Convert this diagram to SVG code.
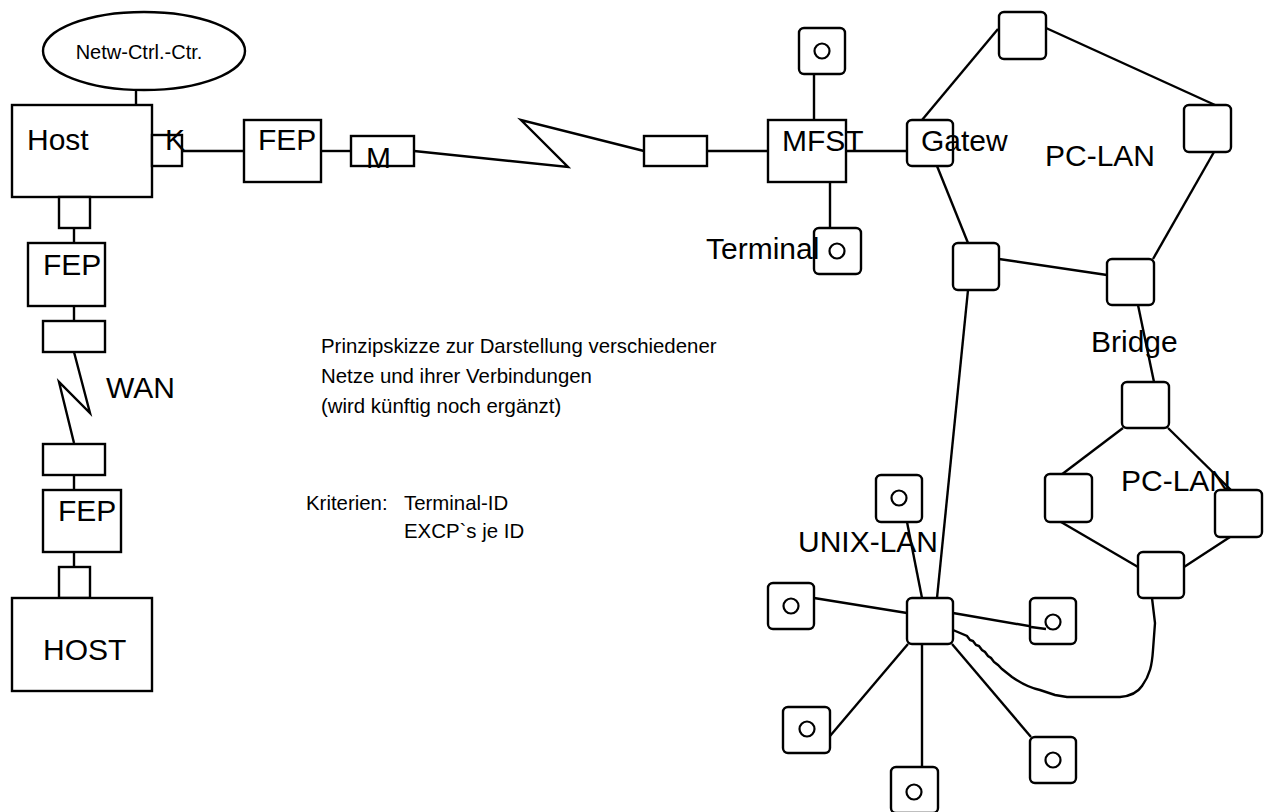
<svg xmlns="http://www.w3.org/2000/svg" width="1266" height="812" viewBox="0 0 1266 812">
<style>
.s{fill:none;stroke:#000;stroke-width:2.4}
.b{fill:#fff;stroke:#000;stroke-width:2.4}
.r{fill:#fff;stroke:#000;stroke-width:2.4}
.c{fill:none;stroke:#000;stroke-width:2.2}
.L{font-family:"Liberation Sans",Arial,sans-serif;font-size:30px;fill:#000}
.t{font-family:"Liberation Sans",Arial,sans-serif;font-size:20.4px;fill:#000}
</style>
<rect width="1266" height="812" fill="#fff"/>
<g id="connectors" class="s">
<line x1="136" y1="90" x2="136" y2="105"/>
<line x1="182" y1="151" x2="244" y2="151"/>
<line x1="321" y1="151" x2="351" y2="151"/>
<polyline points="414,151 568,167 521,120 644,151"/>
<line x1="707" y1="151" x2="768" y2="151"/>
<line x1="846" y1="151" x2="907" y2="151"/>
<line x1="814" y1="74" x2="814" y2="120"/>
<line x1="830" y1="182" x2="830" y2="228"/>
<line x1="74" y1="228" x2="74" y2="243"/>
<line x1="74" y1="306" x2="74" y2="321"/>
<polyline points="74,352 90,413 59,382 74,443"/>
<line x1="74" y1="475" x2="74" y2="490"/>
<line x1="74" y1="552" x2="74" y2="567"/>
<line x1="998" y1="29" x2="922" y2="120"/>
<line x1="1046" y1="28" x2="1215" y2="105"/>
<line x1="1214" y1="152" x2="1153" y2="259"/>
<line x1="937" y1="166" x2="968" y2="243"/>
<line x1="999" y1="259" x2="1107" y2="275"/>
<line x1="968" y1="290" x2="937" y2="598"/>
<line x1="1138" y1="305" x2="1154" y2="382"/>
<line x1="1123" y1="428" x2="1061" y2="475"/>
<line x1="1168" y1="428" x2="1232" y2="491"/>
<line x1="1061" y1="522" x2="1138" y2="567"/>
<line x1="1230" y1="537" x2="1184" y2="567"/>
<line x1="907" y1="522" x2="922" y2="598"/>
<line x1="814" y1="598" x2="907" y2="613"/>
<line x1="953" y1="613" x2="1046" y2="629"/>
<line x1="830" y1="736" x2="908" y2="644"/>
<line x1="922" y1="644" x2="922" y2="768"/>
<line x1="952" y1="644" x2="1031" y2="737"/>
<path d="M953,630 L967,636 L970,640 L973,641 L976,645 L979,646 L982,650 L985,652 L988,656 L991,658 L994,662 L998,665 L1002,669 L1007,673 L1012,677 C1022,684 1030,688 1040,690 L1055,695 L1067,697 L1120,697 C1132,696 1138,692 1142,686 C1150,675 1152,665 1153,650 L1155,623 L1152,598"/>
</g>
<g id="netw-ctrl">
<ellipse class="b" cx="144" cy="51" rx="101" ry="39"/>
<text class="t" x="139" y="59" text-anchor="middle" style="font-size:20px">Netw-Ctrl.-Ctr.</text>
</g>
<g id="host">
<rect class="b" x="12" y="105" width="140" height="92"/>
<text class="L" x="27" y="150">Host</text>
</g>
<g id="k">
<rect class="b" x="152" y="135" width="30" height="31"/>
<text class="L" x="165" y="150">K</text>
</g>
<g id="fep1">
<rect class="b" x="244" y="120" width="77" height="62"/>
<text class="L" x="258" y="150">FEP</text>
</g>
<g id="m">
<rect class="b" x="351" y="136" width="63" height="30"/>
<text class="L" x="366" y="168">M</text>
</g>
<g id="modem2">
<rect class="b" x="644" y="136" width="63" height="30"/>
</g>
<g id="mfst">
<rect class="b" x="768" y="120" width="78" height="62"/>
<text class="L" x="782" y="151">MFST</text>
</g>
<g id="term-top">
<rect class="r" x="799" y="28" width="46" height="46" rx="5"/>
<circle class="c" cx="822" cy="51" r="7.5"/>
</g>
<g id="terminal">
<rect class="r" x="814" y="228" width="47" height="46" rx="5"/>
<circle class="c" cx="837" cy="251" r="7.5"/>
<text class="L" x="706" y="259">Terminal</text>
</g>
<g id="host-port">
<rect class="b" x="59" y="197" width="31" height="31"/>
</g>
<g id="fep2">
<rect class="b" x="28" y="243" width="77" height="63"/>
<text class="L" x="43" y="275">FEP</text>
</g>
<g id="wan-modem1">
<rect class="b" x="43" y="321" width="62" height="31"/>
</g>
<g id="wan">
<text class="L" x="106" y="398">WAN</text>
</g>
<g id="wan-modem2">
<rect class="b" x="43" y="444" width="62" height="31"/>
</g>
<g id="fep3">
<rect class="b" x="43" y="490" width="78" height="62"/>
<text class="L" x="58" y="521">FEP</text>
</g>
<g id="host2-port">
<rect class="b" x="59" y="567" width="31" height="31"/>
</g>
<g id="host2">
<rect class="b" x="12" y="598" width="140" height="93"/>
<text class="L" x="43" y="660">HOST</text>
</g>
<g id="pc-top">
<rect class="r" x="999" y="12" width="47" height="47" rx="5"/>
</g>
<g id="pc-right">
<rect class="r" x="1184" y="105" width="47" height="47" rx="5"/>
</g>
<g id="gatew">
<rect class="r" x="907" y="120" width="46" height="46" rx="5"/>
<text class="L" x="921" y="151">Gatew</text>
</g>
<g id="pc-lan1">
<text class="L" x="1045" y="166">PC-LAN</text>
</g>
<g id="pc-bl">
<rect class="r" x="953" y="243" width="46" height="47" rx="5"/>
</g>
<g id="bridge">
<rect class="r" x="1107" y="259" width="47" height="46" rx="5"/>
<text class="L" x="1091" y="352">Bridge</text>
</g>
<g id="pc2-top">
<rect class="r" x="1122" y="382" width="47" height="46" rx="5"/>
</g>
<g id="pc2-left">
<rect class="r" x="1045" y="474" width="47" height="48" rx="5"/>
</g>
<g id="pc2-right">
<rect class="r" x="1215" y="490" width="47" height="47" rx="5"/>
</g>
<g id="pc2-bottom">
<rect class="r" x="1138" y="552" width="46" height="46" rx="5"/>
</g>
<g id="pc-lan2">
<text class="L" x="1121" y="491">PC-LAN</text>
</g>
<g id="unix-hub">
<rect class="r" x="907" y="598" width="46" height="46" rx="5"/>
</g>
<g id="unix-lan">
<text class="L" x="798" y="552">UNIX-LAN</text>
</g>
<g id="u-top">
<rect class="r" x="876" y="475" width="46" height="47" rx="5"/>
<circle class="c" cx="899" cy="498" r="7.5"/>
</g>
<g id="u-left">
<rect class="r" x="768" y="583" width="46" height="46" rx="5"/>
<circle class="c" cx="791" cy="606" r="7.5"/>
</g>
<g id="u-right">
<rect class="r" x="1030" y="598" width="46" height="46" rx="5"/>
<circle class="c" cx="1053" cy="622" r="7.5"/>
</g>
<line class="s" x1="1031" y1="627" x2="1046" y2="629"/>
<g id="u-bl">
<rect class="r" x="783" y="707" width="47" height="46" rx="5"/>
<circle class="c" cx="807" cy="729" r="7.5"/>
</g>
<g id="u-bottom">
<rect class="r" x="891" y="767" width="47" height="46" rx="5"/>
<circle class="c" cx="914" cy="792" r="7.5"/>
</g>
<g id="u-br">
<rect class="r" x="1030" y="737" width="46" height="46" rx="5"/>
<circle class="c" cx="1053" cy="760" r="7.5"/>
</g>
<g id="notes">
<text class="t" x="321" y="353">Prinzipskizze zur Darstellung verschiedener</text>
<text class="t" x="321" y="383">Netze und ihrer Verbindungen</text>
<text class="t" x="321" y="413">(wird künftig noch ergänzt)</text>
<text class="t" x="306" y="510">Kriterien:</text>
<text class="t" x="404" y="510">Terminal-ID</text>
<text class="t" x="404" y="538">EXCP`s je ID</text>
</g>
</svg>
